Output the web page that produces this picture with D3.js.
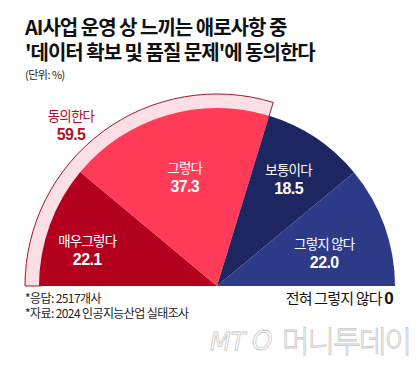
<!DOCTYPE html>
<html>
<head>
<meta charset="utf-8">
<script src="https://cdn.jsdelivr.net/npm/d3@7"></script>
<style>
  body { margin: 0; background: #fff; }
  svg { display: block; font-family: "Noto Sans CJK KR", sans-serif; }
  .num { font-family: "Liberation Sans", Arial, sans-serif; font-weight: 700; }
</style>
</head>
<body>
<svg id="chart" width="420" height="367"></svg>
<script>
// answer categories and shares (%)
const categories = ["매우그렇다", "그렇다", "보통이다", "그렇지 않다"];
const values = [22.1, 37.3, 18.5, 22.0];
const agreeLabel = "동의한다";
const agreeValue = 59.5;
const zeroLabel = "전혀 그렇지 않다";
const zeroValue = 0;

const colors = ["#b4001f", "#ff3b58", "#1d2660", "#2c3a88"];
// label radius and vertical nudge for each slice
const labelAt = [[138, 12], [113, 0], [129, 1], [114, 7]];

const svg = d3.select("#chart");
const cx = 217, cy = 286, r = 178, ringR = 192;

// title
const title = svg.append("g").attr("fill", "#111").style("font-weight", 700)
  .style("font-size", "20px").style("letter-spacing", "-1px");
title.append("text").attr("x", 25).attr("y", 35).text("AI사업 운영 상 느끼는 애로사항 중");
title.append("text").attr("x", 25).attr("y", 60).text("'데이터 확보 및 품질 문제'에 동의한다");
svg.append("text").attr("x", 25).attr("y", 79).attr("fill", "#222")
  .style("font-size", "11px").style("letter-spacing", "-0.5px").text("(단위: %)");

const g = svg.append("g").attr("transform", `translate(${cx},${cy})`);

const pie = d3.pie().sort(null)
  .startAngle(-Math.PI / 2).endAngle(Math.PI / 2)
  .value(d => d);
const arcs = pie(values);

// ring around the "agree" share
const ring = d3.arc().innerRadius(r - 2).outerRadius(ringR)
  .startAngle(arcs[0].startAngle).endAngle(arcs[1].endAngle);
g.append("path").attr("d", ring())
  .attr("fill", "#fbdfe4").attr("stroke", "#a3142f").attr("stroke-width", 1);

const arc = d3.arc().innerRadius(0).outerRadius(r);
g.selectAll("path.slice").data(arcs).enter().append("path")
  .attr("class", "slice")
  .attr("d", arc)
  .attr("fill", (d, i) => colors[i]);

// slice labels
const lbl = g.selectAll("g.lbl").data(arcs).enter().append("g")
  .attr("class", "lbl")
  .attr("transform", (d, i) => {
    const a = (d.startAngle + d.endAngle) / 2;
    const [lr, dy] = labelAt[i];
    return `translate(${lr * Math.sin(a)},${-lr * Math.cos(a) + dy})`;
  })
  .attr("text-anchor", "middle").attr("fill", "#fff");
lbl.append("text").attr("y", -5).style("font-size", "13.5px")
  .style("letter-spacing", "-0.8px").text((d, i) => categories[i]);
lbl.append("text").attr("class", "num").attr("y", 14).style("font-size", "16px")
  .style("letter-spacing", "-0.6px").text(d => d.value.toFixed(1));

// "agree" total label
const ag = svg.append("g").attr("text-anchor", "middle").attr("fill", "#b0102c");
ag.append("text").attr("x", 71).attr("y", 121).style("font-size", "13.5px")
  .style("letter-spacing", "-0.8px").text(agreeLabel);
ag.append("text").attr("class", "num").attr("x", 71).attr("y", 140).style("font-size", "16px")
  .style("letter-spacing", "-0.6px").text(agreeValue.toFixed(1));

// zero category note
const zt = svg.append("text").attr("x", 393).attr("y", 304).attr("text-anchor", "end")
  .attr("fill", "#111").style("font-size", "15px").style("letter-spacing", "-0.8px");
zt.append("tspan").text(zeroLabel + " ");
zt.append("tspan").attr("class", "num").style("font-size", "17px").text(zeroValue);

// footnotes
const fn = svg.append("g").attr("fill", "#222").style("font-size", "12px").style("letter-spacing", "-0.6px");
fn.append("text").attr("x", 25).attr("y", 303).text("*응답: 2517개사");
fn.append("text").attr("x", 25).attr("y", 318).text("*자료: 2024 인공지능산업 실태조사");

// watermark
const wm = svg.append("g").attr("fill", "none").attr("stroke", "#c8c8c8").attr("stroke-width", 0.8);
wm.append("text").attr("x", 210).attr("y", 350).style("font-size", "24px")
  .style("font-style", "italic").style("font-family", "'DejaVu Sans'").text("MT");
wm.append("text").attr("x", 252).attr("y", 350).style("font-size", "26px")
  .style("font-style", "italic").style("font-family", "'DejaVu Sans'").text("O");
wm.append("text").attr("x", 282).attr("y", 352).style("font-size", "30px")
  .style("font-weight", 300).style("letter-spacing", "-2px").text("머니투데이");
</script>
</body>
</html>
